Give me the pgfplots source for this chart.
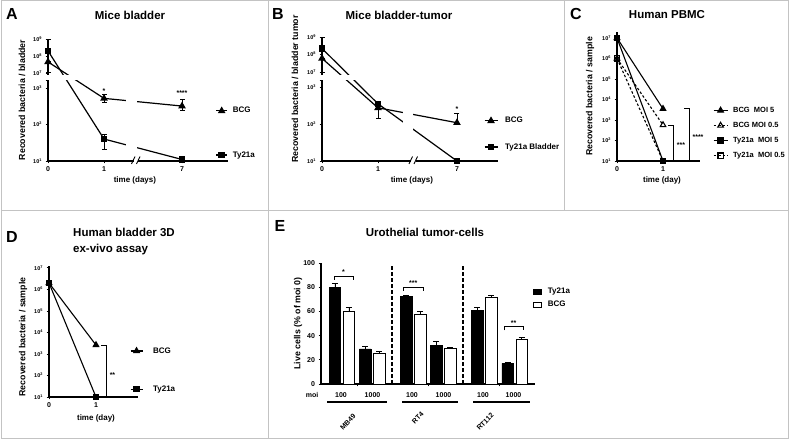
\documentclass[border=0pt]{standalone}
\usepackage{fontspec}
\setmainfont{Liberation Sans}
\usepackage{pgfplots}
\pgfplotsset{compat=1.18}
\definecolor{framegray}{RGB}{195,195,195}
\pgfplotsset{
  prism/.style={
    scale only axis, clip=false,
    axis lines=left, axis line style={-, line width=1.1pt},
    tick style={black, line width=0.9pt}, tick align=outside, major tick length=2.5pt,
    xticklabel style={font=\fontsize{7}{8}\selectfont\bfseries},
    yticklabel style={font=\fontsize{5.5}{6}\selectfont\bfseries},
    xlabel style={font=\fontsize{8}{9}\selectfont\bfseries},
    ylabel style={font=\fontsize{8.8}{10}\selectfont\bfseries},
    legend style={draw=none, fill=none, font=\fontsize{8}{9}\selectfont\bfseries, inner sep=0pt, outer sep=0pt, anchor=west, cells={anchor=west, inner sep=0.5pt}},
    legend cell align=left,
    yminorticks=false,
  },
}
% broken log axis: log10 below 10^5 as is, above mapped linearly with offset/slope
\def\mytrafo#1#2#3{%
  \begingroup
  \pgfkeys{/pgf/fpu=true,/pgf/fpu/output format=fixed}%
  \pgfmathparse{ln(#1)/2.302585093}%
  \let\L\pgfmathresult
  \ifdim\L pt>5pt
    \pgfmathparse{#2+#3*(\L-7)}%
  \else
    \pgfmathparse{\L}%
  \fi
  \xdef\mytrafoResult{\pgfmathresult}%
  \endgroup
  \let\pgfmathresult\mytrafoResult}
\newcommand{\tp}[1]{10\textsuperscript{#1}}
\begin{document}
\begin{tikzpicture}[x=1pt,y=1pt]
\useasboundingbox (0,0) rectangle (790,441);
% ---------------- Panel A ----------------
\begin{axis}[prism, at={(48pt,280pt)}, anchor=south west, width=180pt, height=122pt,
  xmin=0, xmax=3.214, ymin=10, ymax=1e9,
  x filter/.expression={x>5 ? 2.393 : x},
  y coord trafo/.code={\mytrafo{#1}{3.411}{0.4658}},
  xtick={0,1,2.393}, xticklabels={0,1,7},
  ytick={10,100,1000,1e7,1e8,1e9},
  yticklabels={\tp{1},\tp{2},\tp{3},\tp{7},\tp{8},\tp{9}},
  xlabel={time (days)}, ylabel={Recovered bacteria / bladder},
  xlabel style={at={(axis description cs:0.483,-0.156)}, anchor=center},
  ylabel style={at={(axis description cs:-0.144,0.5)}, anchor=center},
  legend style={at={(axis description cs:0.931,0.230)}, row sep=33pt, column sep=3pt},
  legend image code/.code={\draw[mark repeat=2,mark phase=2,#1] plot coordinates {(0pt,0pt) (5.5pt,0pt) (11pt,0pt)};},
]
\addplot[forget plot, black, line width=0.9pt, mark=-, mark size=2.5pt] coordinates {(0,2e8) (0,9e8)};
\addplot[forget plot, black, line width=0.9pt, mark=-, mark size=2.5pt] coordinates {(0,4.5e7) (0,1.1e7)};
\addplot[forget plot, black, line width=0.9pt, mark=-, mark size=2.5pt] coordinates {(1,400) (1,650)};
\addplot[forget plot, black, line width=0.9pt, mark=-, mark size=2.5pt] coordinates {(1,21) (1,55)};
\addplot[forget plot, black, line width=0.9pt, mark=-, mark size=2.5pt] coordinates {(7,240) (7,490)};
\addplot[black, line width=1.2pt, mark=triangle*, mark size=3.2pt] coordinates {(0,4.5e7) (1,520) (7,320)};
\addlegendentry{BCG}
\addplot[black, line width=1.2pt, mark=square*, mark size=2.6pt] coordinates {(0,2e8) (1,40) (7,11)};
\addlegendentry{Ty21a}
\end{axis}
% ---------------- Panel B ----------------
\begin{axis}[prism, at={(322pt,280pt)}, anchor=south west, width=176pt, height=124pt,
  xmin=0, xmax=3.143, ymin=10, ymax=1e9,
  x filter/.expression={x>5 ? 2.41 : x},
  y coord trafo/.code={\mytrafo{#1}{3.422}{0.476}},
  xtick={0,1,2.41}, xticklabels={0,1,7},
  ytick={10,100,1000,1e7,1e8,1e9},
  yticklabels={\tp{1},\tp{2},\tp{3},\tp{7},\tp{8},\tp{9}},
  xlabel={time (days)}, ylabel={Recovered bacteria / bladder tumor},
  xlabel style={at={(axis description cs:0.511,-0.153)}, anchor=center},
  ylabel style={at={(axis description cs:-0.153,0.58)}, anchor=center},
  legend style={at={(axis description cs:0.920,0.218)}, row sep=15pt, column sep=5pt},
  legend image code/.code={\draw[mark repeat=2,mark phase=2,#1] plot coordinates {(0pt,0pt) (6.5pt,0pt) (13pt,0pt)};},
]
\addplot[forget plot, black, line width=0.9pt, mark=-, mark size=2.5pt] coordinates {(0,2.2e8) (0,1e9)};
\addplot[forget plot, black, line width=0.9pt, mark=-, mark size=2.5pt] coordinates {(0,6e7) (0,1e7)};
\addplot[forget plot, black, line width=0.9pt, mark=-, mark size=2.5pt] coordinates {(1,146) (1,300)};
\addplot[forget plot, black, line width=0.9pt, mark=-, mark size=2.5pt] coordinates {(7,110) (7,200)};
\addplot[black, line width=1.2pt, mark=triangle*, mark size=3.2pt] coordinates {(0,6e7) (1,280) (7,110)};
\addlegendentry{BCG}
\addplot[black, line width=1.2pt, mark=square*, mark size=2.6pt] coordinates {(0,2.2e8) (1,360) (7,10)};
\addlegendentry{Ty21a Bladder}
\end{axis}
% ---------------- Panel C ----------------
\begin{axis}[prism, at={(617pt,280pt)}, anchor=south west, width=83pt, height=129pt,
  xmin=0, xmax=1.804, ymode=log, ymin=10, ymax=1.95e7,
  xtick={0,1}, xticklabels={0,1},
  ytick={10,100,1000,1e4,1e5,1e6,1e7},
  yticklabels={\tp{1},\tp{2},\tp{3},\tp{4},\tp{5},\tp{6},\tp{7}},
  xlabel={time (day)}, ylabel={Recovered bacteria / sample},
  xlabel style={at={(axis description cs:0.542,-0.147)}, anchor=center},
  ylabel style={at={(axis description cs:-0.325,0.5)}, anchor=center},
  legend style={at={(axis description cs:1.157,0.217)}, row sep=4.3pt, column sep=3pt, font=\fontsize{7.5}{8.5}\selectfont\bfseries},
  legend image code/.code={\draw[mark repeat=2,mark phase=2,#1] plot coordinates {(0pt,0pt) (7pt,0pt) (14pt,0pt)};},
]
\addplot[black, line width=1.1pt, mark=triangle*, mark size=3.2pt] coordinates {(0,1e7) (1,3500)};
\addlegendentry{BCG\ \ MOI 5}
\addplot[black, line width=1.1pt, dash pattern=on 2.5pt off 2pt, mark=triangle, mark size=3.2pt, mark options={solid, fill=white}] coordinates {(0,1e6) (1,570)};
\addlegendentry{BCG MOI 0.5}
\addplot[black, line width=1.1pt, mark=square*, mark size=2.6pt] coordinates {(0,1e7) (1,10)};
\addlegendentry{Ty21a\ \ MOI 5}
\addplot[black, line width=1.1pt, dash pattern=on 2.5pt off 2pt, mark=square, mark size=2.6pt, mark options={solid}] coordinates {(0,1e6) (1,10)};
\addlegendentry{Ty21a\ \ MOI 0.5}
\end{axis}
% ---------------- Panel D ----------------
\begin{axis}[prism, at={(49pt,44pt)}, anchor=south west, width=89pt, height=131pt,
  xmin=0, xmax=1.894, ymode=log, ymin=10, ymax=1.23e7,
  xtick={0,1}, xticklabels={0,1},
  ytick={10,100,1000,1e4,1e5,1e6,1e7},
  yticklabels={\tp{1},\tp{2},\tp{3},\tp{4},\tp{5},\tp{6},\tp{7}},
  xlabel={time (day)}, ylabel={Recovered bacteria / sample},
  xlabel style={at={(axis description cs:0.528,-0.160)}, anchor=center},
  ylabel style={at={(axis description cs:-0.292,0.458)}, anchor=center},
  legend style={at={(axis description cs:0.910,0.206)}, row sep=27pt, column sep=8pt},
  legend image code/.code={\draw[mark repeat=2,mark phase=2,#1] plot coordinates {(0pt,0pt) (6pt,0pt) (12pt,0pt)};},
]
\addplot[black, line width=1.1pt, mark=triangle*, mark size=3.2pt] coordinates {(0,2e6) (1,2600)};
\addlegendentry{BCG}
\addplot[black, line width=1.1pt, mark=square*, mark size=2.6pt] coordinates {(0,2e6) (1,10)};
\addlegendentry{Ty21a}
\end{axis}
% ---------------- Panel E ----------------
\begin{axis}[prism, at={(321pt,57pt)}, anchor=south west, width=214pt, height=121pt,
  xmin=-0.69, xmax=6.37, ymin=0, ymax=100,
  ybar, bar width=11.5pt,
  error bars/y dir=plus, error bars/y explicit,
  error bars/error bar style={line width=0.8pt, black},
  error bars/error mark options={rotate=90, mark size=3pt, line width=0.8pt, black},
  ytick={0,20,40,60,80,100}, yticklabels={0,20,40,60,80,100},
  yticklabel style={font=\fontsize{7}{8}\selectfont\bfseries},
  xtick={0.5,2.85,5.2}, xticklabels={,,},
  ylabel={Live cells (\% of moi 0)},
  ylabel style={at={(axis description cs:-0.107,0.5)}, anchor=center},
  legend style={at={(axis description cs:0.991,0.711)}, row sep=2pt, column sep=4pt},
  legend image code/.code={\draw[#1, line width=0.8pt] (0pt,-2.5pt) rectangle (8pt,2.5pt);},
]
\addplot[fill=black, draw=black, line width=0.8pt, bar shift=-7pt] coordinates {
  (0,80) +- (0,3) (1,29) +- (0,2) (2.35,72) +- (0,1.6) (3.35,32) +- (0,3.2)
  (4.7,61) +- (0,2.2) (5.7,17) +- (0,1)};
\addlegendentry{Ty21a}
\addplot[fill=white, draw=black, line width=0.8pt, bar shift=7pt] coordinates {
  (0,60) +- (0,3.4) (1,25) +- (0,2) (2.35,57.5) +- (0,2.5) (3.35,29.8) +- (0,0.4)
  (4.7,71.5) +- (0,1.7) (5.7,36.5) +- (0,2.2)};
\addlegendentry{BCG}
\end{axis}
% ---------- breaks (white gaps) ----------
\fill[white] (44.5,361) rectangle (235,366.2);
\fill[white] (126,283) rectangle (137,359);
\fill[white] (133.5,277.5) rectangle (138,282.5);
\draw[line width=0.9pt] (131.5,277) -- (135,284.5);
\draw[line width=0.9pt] (136.5,277) -- (140,284.5);
\draw[line width=0.9pt] (45.5,360.5) -- (48,360.5);
\fill[white] (318.5,361) rectangle (505,366.2);
\fill[white] (403,283) rectangle (413,359);
\fill[white] (411,277.5) rectangle (415.5,282.5);
\draw[line width=0.9pt] (409,277) -- (412.5,284.5);
\draw[line width=0.9pt] (414,277) -- (417.5,284.5);
\draw[line width=0.9pt] (319.5,360.5) -- (322,360.5);
% ---------- annotations ----------
\begin{scope}[font=\fontsize{7}{8}\selectfont\bfseries]
\node at (104,350) {*};
\node at (182,348) {****};
\node at (457,332) {*};
% C brackets
\draw[line width=0.9pt] (668,316) -- (673,316) -- (673,280) -- (668,280);
\draw[line width=0.9pt] (684,333) -- (689,333) -- (689,280) -- (684,280);
\node at (681,296) {***};
\node at (698,304) {****};
% D bracket
\draw[line width=0.9pt] (101,96) -- (106,96) -- (106,45) -- (101,45);
\node at (112.5,66) {**};
% E brackets
\draw[line width=0.9pt] (334,161) -- (334,165) -- (353,165) -- (353,161);
\node at (343.5,169) {*};
\draw[line width=0.9pt] (403.3,150) -- (403.3,153.7) -- (423.3,153.7) -- (423.3,150);
\node at (413.3,157.5) {***};
\draw[line width=0.9pt] (504,110.5) -- (504,114.3) -- (523.3,114.3) -- (523.3,110.5);
\node at (513.6,118) {**};
% E dashed separators
\draw[line width=1.1pt, dash pattern=on 3.5pt off 2.5pt] (392,57) -- (392,175);
\draw[line width=1.1pt, dash pattern=on 3.5pt off 2.5pt] (463,57) -- (463,175);
% E group labels
\node at (312,46) {moi};
\foreach \xx/\tt in {341/100,372.5/1000,412/100,443.5/1000,483/100,513.5/1000}{\node at (\xx,46) {\tt};}
\draw[line width=1.2pt] (327,39) -- (387,39);
\draw[line width=1.2pt] (402,39) -- (458,39);
\draw[line width=1.2pt] (473,39) -- (530,39);
\node[rotate=45, anchor=east] at (357,28) {MB49};
\node[rotate=45, anchor=east] at (425,30) {RT4};
\node[rotate=45, anchor=east] at (495,29) {RT112};
\end{scope}
% ---------- titles and panel letters ----------
\begin{scope}[font=\fontsize{16}{16}\selectfont\bfseries]
\node at (12,427) {A};
\node at (278,427) {B};
\node at (576,427) {C};
\node at (12,204) {D};
\node at (280,215) {E};
\end{scope}
\begin{scope}[font=\fontsize{11.5}{16}\selectfont\bfseries]
\node at (130,426) {Mice bladder};
\node at (399,426) {Mice bladder-tumor};
\node at (667,426) {Human PBMC};
\node[anchor=north west, align=left, inner sep=0pt] at (73,213.5) {Human bladder 3D\\ex-vivo assay};
\node at (425,209) {Urothelial tumor-cells};
\end{scope}
% ---------- frame ----------
\draw[framegray, line width=1pt] (1,2) rectangle (788.5,440.5);
\draw[framegray, line width=1pt] (1,230) -- (788.5,230);
\draw[framegray, line width=1pt] (268,2) -- (268,440.5);
\draw[framegray, line width=1pt] (564,230) -- (564,440.5);
\end{tikzpicture}
\end{document}
